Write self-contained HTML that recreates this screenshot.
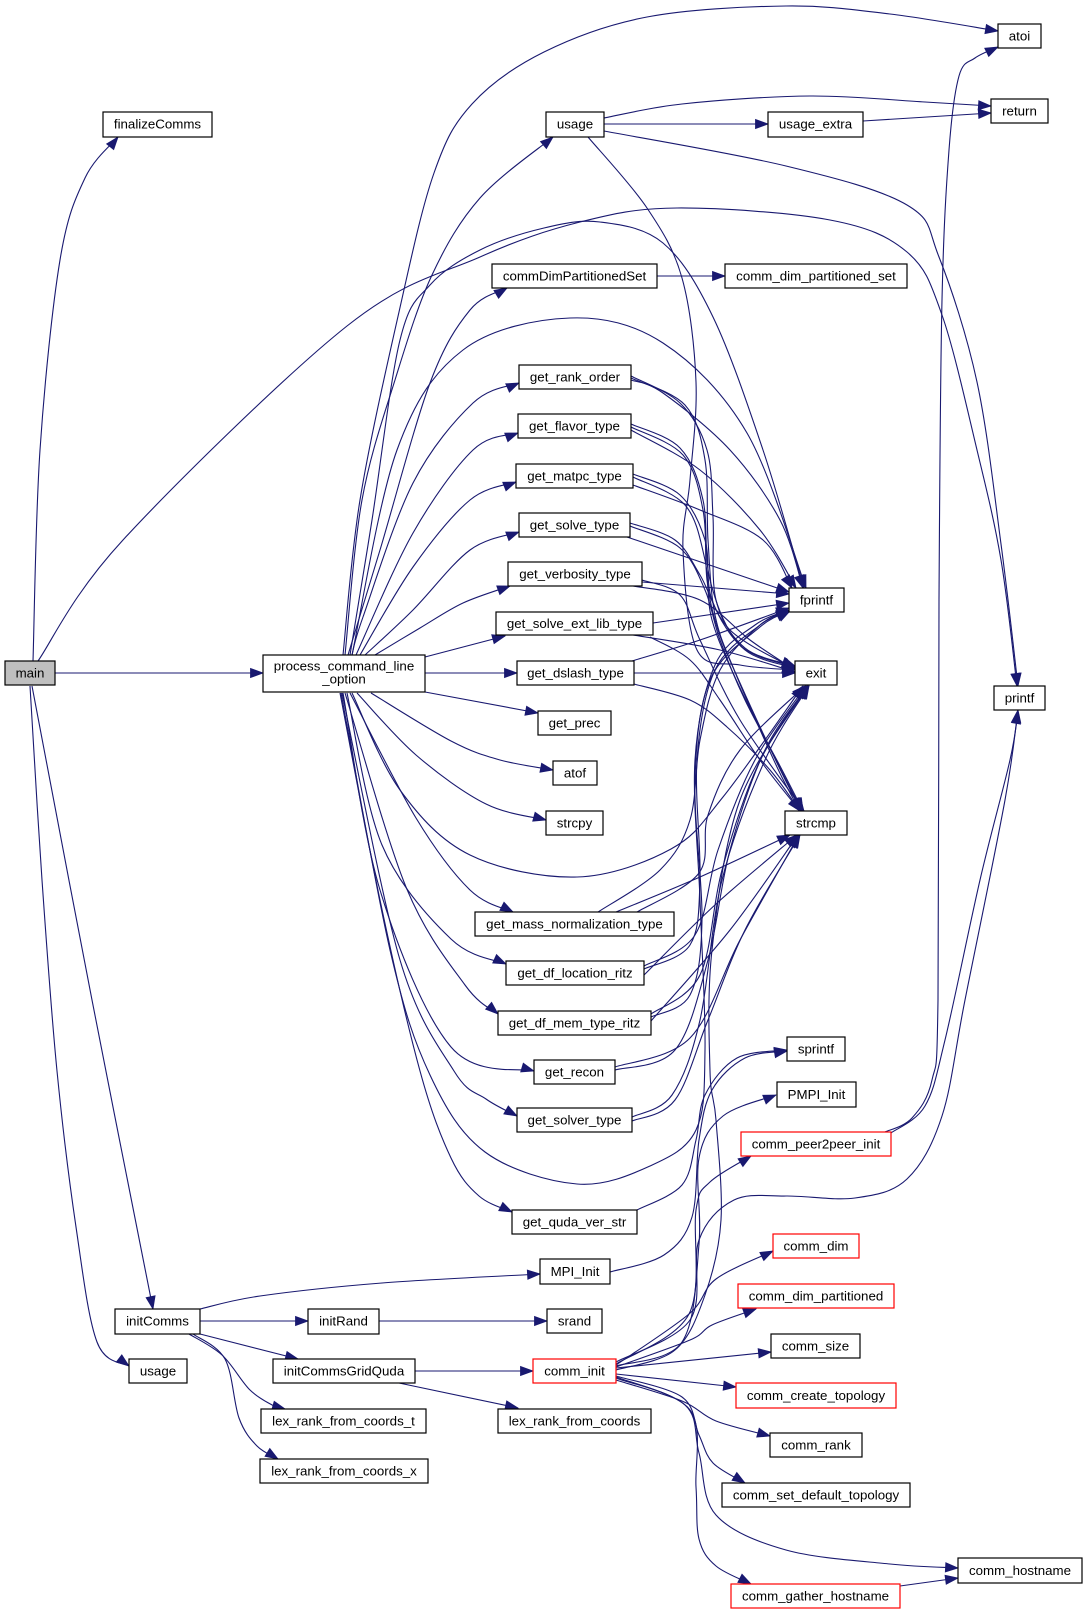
<!DOCTYPE html>
<html>
<head>
<meta charset="utf-8">
<style>
html,body{margin:0;padding:0;background:#fff;}
svg{display:block;}
</style>
</head>
<body>
<svg id="s" xmlns="http://www.w3.org/2000/svg" width="1087" height="1611" viewBox="0 0 1087 1611">
<rect x="0" y="0" width="1087" height="1611" fill="#ffffff"/>
<g id="e" stroke="#191970" stroke-width="1.1" fill="none"></g>
<g id="h" fill="#191970" stroke="#191970" stroke-width="0.8"></g>
<g font-family="'Liberation Sans', Arial, sans-serif" font-size="13.3" text-anchor="middle" fill="#000">
<g stroke-width="1.2">
<rect x="5" y="661" width="50" height="24" fill="#bfbfbf" stroke="#000"/>
<rect x="263" y="655" width="162" height="37" fill="#fff" stroke="#000"/>
<rect x="103" y="112" width="109" height="25" fill="#fff" stroke="#000"/>
<rect x="546" y="112" width="58" height="25" fill="#fff" stroke="#000"/>
<rect x="768" y="112" width="95" height="25" fill="#fff" stroke="#000"/>
<rect x="998" y="24" width="43" height="24" fill="#fff" stroke="#000"/>
<rect x="991" y="99" width="57" height="24" fill="#fff" stroke="#000"/>
<rect x="492" y="264" width="165" height="24" fill="#fff" stroke="#000"/>
<rect x="725" y="264" width="182" height="24" fill="#fff" stroke="#000"/>
<rect x="519" y="365" width="112" height="24" fill="#fff" stroke="#000"/>
<rect x="518" y="414" width="113" height="24" fill="#fff" stroke="#000"/>
<rect x="516" y="464" width="117" height="24" fill="#fff" stroke="#000"/>
<rect x="519" y="513" width="111" height="24" fill="#fff" stroke="#000"/>
<rect x="508" y="562" width="134" height="24" fill="#fff" stroke="#000"/>
<rect x="496" y="612" width="157" height="23" fill="#fff" stroke="#000"/>
<rect x="517" y="661" width="117" height="24" fill="#fff" stroke="#000"/>
<rect x="538" y="711" width="73" height="24" fill="#fff" stroke="#000"/>
<rect x="553" y="761" width="44" height="24" fill="#fff" stroke="#000"/>
<rect x="546" y="811" width="57" height="24" fill="#fff" stroke="#000"/>
<rect x="475" y="912" width="199" height="24" fill="#fff" stroke="#000"/>
<rect x="506" y="961" width="138" height="24" fill="#fff" stroke="#000"/>
<rect x="498" y="1011" width="153" height="24" fill="#fff" stroke="#000"/>
<rect x="534" y="1060" width="81" height="24" fill="#fff" stroke="#000"/>
<rect x="517" y="1108" width="115" height="24" fill="#fff" stroke="#000"/>
<rect x="512" y="1210" width="125" height="24" fill="#fff" stroke="#000"/>
<rect x="540" y="1259" width="70" height="25" fill="#fff" stroke="#000"/>
<rect x="547" y="1309" width="55" height="24" fill="#fff" stroke="#000"/>
<rect x="115" y="1309" width="85" height="25" fill="#fff" stroke="#000"/>
<rect x="308" y="1309" width="71" height="25" fill="#fff" stroke="#000"/>
<rect x="129" y="1359" width="58" height="24" fill="#fff" stroke="#000"/>
<rect x="273" y="1359" width="142" height="24" fill="#fff" stroke="#000"/>
<rect x="533" y="1359" width="83" height="24" fill="#fff" stroke="#ff0000"/>
<rect x="261" y="1409" width="165" height="24" fill="#fff" stroke="#000"/>
<rect x="498" y="1409" width="153" height="24" fill="#fff" stroke="#000"/>
<rect x="260" y="1459" width="168" height="24" fill="#fff" stroke="#000"/>
<rect x="789" y="588" width="55" height="24" fill="#fff" stroke="#000"/>
<rect x="795" y="661" width="42" height="24" fill="#fff" stroke="#000"/>
<rect x="785" y="811" width="62" height="24" fill="#fff" stroke="#000"/>
<rect x="787" y="1037" width="58" height="24" fill="#fff" stroke="#000"/>
<rect x="777" y="1082" width="79" height="25" fill="#fff" stroke="#000"/>
<rect x="741" y="1132" width="150" height="24" fill="#fff" stroke="#ff0000"/>
<rect x="773" y="1234" width="86" height="24" fill="#fff" stroke="#ff0000"/>
<rect x="738" y="1284" width="156" height="24" fill="#fff" stroke="#ff0000"/>
<rect x="771" y="1334" width="89" height="24" fill="#fff" stroke="#000"/>
<rect x="736" y="1383" width="160" height="25" fill="#fff" stroke="#ff0000"/>
<rect x="770" y="1433" width="92" height="24" fill="#fff" stroke="#000"/>
<rect x="722" y="1483" width="188" height="24" fill="#fff" stroke="#000"/>
<rect x="958" y="1558" width="124" height="25" fill="#fff" stroke="#000"/>
<rect x="731" y="1584" width="169" height="24" fill="#fff" stroke="#ff0000"/>
<rect x="994" y="686" width="51" height="24" fill="#fff" stroke="#000"/>
</g>
<text x="30" y="677.5">main</text>
<text x="344" y="670.5">process_command_line</text>
<text x="344" y="683.5">_option</text>
<text x="157.5" y="128.5">finalizeComms</text>
<text x="575" y="128.5">usage</text>
<text x="815.5" y="128.5">usage_extra</text>
<text x="1019.5" y="40.5">atoi</text>
<text x="1019.5" y="115.5">return</text>
<text x="574.5" y="280.5">commDimPartitionedSet</text>
<text x="816" y="280.5">comm_dim_partitioned_set</text>
<text x="575" y="381.5">get_rank_order</text>
<text x="574.5" y="430.5">get_flavor_type</text>
<text x="574.5" y="480.5">get_matpc_type</text>
<text x="574.5" y="529.5">get_solve_type</text>
<text x="575" y="578.5">get_verbosity_type</text>
<text x="574.5" y="628">get_solve_ext_lib_type</text>
<text x="575.5" y="677.5">get_dslash_type</text>
<text x="574.5" y="727.5">get_prec</text>
<text x="575" y="777.5">atof</text>
<text x="574.5" y="827.5">strcpy</text>
<text x="574.5" y="928.5">get_mass_normalization_type</text>
<text x="575" y="977.5">get_df_location_ritz</text>
<text x="574.5" y="1027.5">get_df_mem_type_ritz</text>
<text x="574.5" y="1076.5">get_recon</text>
<text x="574.5" y="1124.5">get_solver_type</text>
<text x="574.5" y="1226.5">get_quda_ver_str</text>
<text x="575" y="1276">MPI_Init</text>
<text x="574.5" y="1325.5">srand</text>
<text x="157.5" y="1325.5">initComms</text>
<text x="343.5" y="1325.5">initRand</text>
<text x="158" y="1375.5">usage</text>
<text x="344" y="1375.5">initCommsGridQuda</text>
<text x="574.5" y="1375.5">comm_init</text>
<text x="343.5" y="1425.5">lex_rank_from_coords_t</text>
<text x="574.5" y="1425.5">lex_rank_from_coords</text>
<text x="344" y="1475.5">lex_rank_from_coords_x</text>
<text x="816.5" y="604.5">fprintf</text>
<text x="816" y="677.5">exit</text>
<text x="816" y="827.5">strcmp</text>
<text x="816" y="1053.5">sprintf</text>
<text x="816.5" y="1099">PMPI_Init</text>
<text x="816" y="1148.5">comm_peer2peer_init</text>
<text x="816" y="1250.5">comm_dim</text>
<text x="816" y="1300.5">comm_dim_partitioned</text>
<text x="815.5" y="1350.5">comm_size</text>
<text x="816" y="1400">comm_create_topology</text>
<text x="816" y="1449.5">comm_rank</text>
<text x="816" y="1499.5">comm_set_default_topology</text>
<text x="1020" y="1575">comm_hostname</text>
<text x="815.5" y="1600.5">comm_gather_hostname</text>
<text x="1019.5" y="702.5">printf</text>
</g>
</svg>
<script>
(function(){
var E=[
[[33,661],[40,450],[60,260],[85,178],[118,137]],
[[38,661],[123,540],[347,326],[480,257],[580,222],[677,208],[830,220],[907,252],[942,315],[977,450],[1001,560],[1017,686]],
[[55,673],[263,673]],
[[32,686],[92,1000],[153,1309]],
[[30,686],[42,880],[57,1071],[76,1227],[97,1342],[129,1366]],
[[343,655],[360,500],[399,312],[434,173],[472,104],[544,52],[647,17],[786,6],[890,14],[998,31]],
[[345,655],[362,500],[395,380],[432,275],[480,198],[553,137]],
[[348,655],[380,550],[430,383],[470,310],[507,288]],
[[352,655],[397,450],[463,350],[570,318],[663,343],[747,433],[806,588]],
[[350,655],[372,520],[400,340],[430,285],[480,250],[544,228],[600,222],[663,243],[713,317],[763,450],[804,588]],
[[352,655],[363,617],[413,483],[473,403],[519,383]],
[[356,655],[413,533],[473,450],[518,433]],
[[360,655],[413,567],[470,500],[516,482]],
[[365,655],[413,610],[470,550],[519,532]],
[[375,655],[420,628],[463,603],[510,586]],
[[425,657],[505,636]],
[[425,673],[517,673]],
[[425,692],[538,713]],
[[371,693],[451,741],[500,760],[553,770]],
[[357,693],[416,755],[486,804],[546,820]],
[[352,693],[400,790],[470,855],[577,877],[671,849],[723,797],[803,686]],
[[350,693],[416,818],[470,890],[513,912]],
[[347,693],[382,845],[451,939],[506,964]],
[[345,693],[406,887],[465,985],[498,1014]],
[[343,693],[380,890],[451,1047],[534,1071]],
[[342,693],[400,960],[454,1071],[486,1099],[517,1116]],
[[340,693],[380,900],[420,1071],[451,1158],[479,1196],[512,1212]],
[[341,693],[390,950],[430,1075],[485,1152],[577,1184],[650,1166],[696,1130],[705,1050],[700,900],[695,760],[715,665],[755,625],[789,610]],
[[631,380],[663,393],[730,450],[780,520],[803,588]],
[[631,376],[680,403],[707,450],[713,517],[716,600],[745,648],[795,666]],
[[631,378],[685,405],[705,460],[708,540],[715,615],[735,672],[777,767],[800,811]],
[[631,430],[700,470],[760,530],[796,588]],
[[631,424],[680,448],[703,500],[710,580],[740,645],[795,667]],
[[631,427],[683,455],[703,510],[707,580],[718,630],[740,683],[778,765],[801,811]],
[[633,485],[700,510],[763,540],[792,588]],
[[633,474],[680,495],[705,540],[712,600],[745,650],[795,668]],
[[633,477],[685,505],[705,560],[712,620],[740,688],[779,766],[802,811]],
[[627,537],[789,592]],
[[630,523],[675,540],[700,575],[730,630],[795,669]],
[[630,526],[680,548],[705,590],[720,640],[745,700],[780,766],[803,811]],
[[642,582],[789,594]],
[[633,586],[700,600],[750,640],[795,670]],
[[642,580],[680,595],[700,640],[740,720],[804,811]],
[[653,623],[789,603]],
[[633,635],[720,650],[795,672]],
[[650,637],[690,660],[720,700],[760,760],[800,811]],
[[632,661],[700,640],[789,608]],
[[634,673],[795,673]],
[[634,684],[690,700],[727,727],[770,770],[800,811]],
[[598,912],[660,870],[690,820],[700,740],[720,670],[760,625],[789,610]],
[[616,912],[700,877],[790,835]],
[[637,912],[699,873],[708,815],[740,750],[805,686]],
[[644,969],[690,945],[700,880],[697,760],[715,670],[760,625],[789,611]],
[[644,966],[695,935],[718,850],[755,760],[806,686]],
[[644,975],[716,904],[797,835]],
[[651,1017],[690,995],[702,920],[695,780],[710,680],[760,627],[790,611]],
[[651,1014],[700,975],[722,870],[758,765],[807,686]],
[[651,1021],[730,930],[798,835]],
[[615,1070],[675,1050],[708,960],[730,850],[765,750],[808,686]],
[[615,1067],[690,1038],[740,940],[799,835]],
[[632,1117],[672,1095],[700,1020],[722,880],[765,760],[809,686]],
[[632,1121],[675,1100],[708,1020],[745,930],[800,835]],
[[637,1210],[682,1185],[696,1140],[705,1095],[737,1058],[787,1050]],
[[610,1272],[664,1255],[692,1217],[699,1140],[712,1090],[745,1058],[787,1051]],
[[588,137],[647,208],[682,278],[696,382],[690,480],[683,550],[697,650],[740,665],[795,670]],
[[604,124],[768,124]],
[[604,118],[682,104],[810,96],[925,102],[991,106]],
[[863,121],[991,113]],
[[604,131],[786,166],[907,205],[939,257],[977,382],[1001,544],[1018,686]],
[[657,276],[725,276]],
[[200,1309],[260,1296],[382,1283],[540,1274]],
[[200,1321],[308,1321]],
[[379,1321],[547,1321]],
[[200,1334],[298,1359]],
[[189,1334],[222,1355],[250,1390],[274,1406],[285,1409]],
[[193,1334],[225,1359],[239,1418],[257,1446],[278,1459]],
[[415,1371],[533,1371]],
[[399,1383],[518,1408]],
[[616,1366],[682,1342],[699,1244],[699,1158],[723,1116],[776,1095]],
[[616,1364],[689,1314],[696,1210],[710,1182],[751,1156]],
[[616,1362],[690,1320],[699,1240],[734,1200],[786,1196],[855,1198],[907,1179],[942,1116],[965,1000],[1005,800],[1018,710]],
[[891,1133],[925,1106],[945,1040],[980,880],[1010,760],[1018,711]],
[[885,1132],[912,1118],[932,1080],[938,1000],[939,600],[942,300],[949,150],[959,76],[975,58],[998,47]],
[[616,1365],[689,1314],[716,1279],[773,1251]],
[[616,1367],[690,1340],[712,1325],[756,1309]],
[[616,1368],[771,1352]],
[[616,1374],[736,1387]],
[[616,1380],[682,1401],[716,1421],[770,1436]],
[[616,1376],[682,1397],[699,1435],[713,1463],[745,1483]],
[[616,1377],[685,1405],[699,1453],[716,1515],[786,1550],[890,1564],[958,1568]],
[[616,1378],[690,1410],[696,1487],[699,1539],[716,1566],[751,1584]],
[[900,1586],[958,1578]],
[[616,1370],[675,1350],[705,1295],[721,1220],[716,1120],[710,1071],[712,950],[740,800],[808,686]]
];
var NS="http://www.w3.org/2000/svg";
var ge=document.getElementById("e"),gh=document.getElementById("h");
function f(v){return Math.round(v*10)/10;}
for(var k=0;k<E.length;k++){
 var p=E[k],n=p.length,d="M"+p[0][0]+","+p[0][1];
 if(n==2){d+="L"+p[1][0]+","+p[1][1];}
 else{
  for(var i=0;i<n-1;i++){
   var a=p[i-1]||p[i],b=p[i],c=p[i+1],e=p[i+2]||c;
   var c1x=b[0]+(c[0]-a[0])/6,c1y=b[1]+(c[1]-a[1])/6;
   var c2x=c[0]-(e[0]-b[0])/6,c2y=c[1]-(e[1]-b[1])/6;
   d+="C"+f(c1x)+","+f(c1y)+" "+f(c2x)+","+f(c2y)+" "+c[0]+","+c[1];
  }
 }
 var pa=document.createElementNS(NS,"path");pa.setAttribute("d",d);ge.appendChild(pa);
 var t=p[n-1],s=p[n-2],dx=t[0]-s[0],dy=t[1]-s[1],L=Math.sqrt(dx*dx+dy*dy)||1;
 dx/=L;dy/=L;
 var bl=12.5,hw=4.6,bx=t[0]-dx*bl,by=t[1]-dy*bl;
 var pts=f(t[0])+","+f(t[1])+" "+f(bx-dy*hw)+","+f(by+dx*hw)+" "+f(bx+dy*hw)+","+f(by-dx*hw);
 var pg=document.createElementNS(NS,"polygon");pg.setAttribute("points",pts);gh.appendChild(pg);
}
})();
</script>
</body>
</html>
